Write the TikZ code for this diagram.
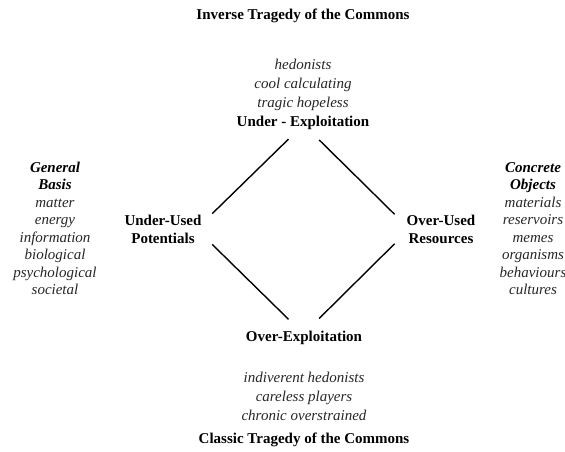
\documentclass[tikz,border=0pt]{standalone}
\usepackage{fontspec}
\setmainfont{Liberation Serif}
\usetikzlibrary{positioning}

\begin{document}
\begin{tikzpicture}[
    x=1pt, y=-1pt,
    heading/.style={
        align=center,
        inner sep=0pt,
        font=\fontsize{15}{17.5}\selectfont\bfseries
    },
    players/.style={
        align=center,
        inner sep=0pt,
        text=black!85,
        font=\fontsize{15}{19}\selectfont\itshape
    },
    sidelist/.style={
        align=center,
        inner sep=0pt,
        text=black!85,
        font=\fontsize{15}{17.5}\selectfont\itshape
    },
    line/.style={line width=1.4pt, shorten <=22pt, shorten >=21pt}
]
    \useasboundingbox (0,0) rectangle (565,452);

    \node[heading] (inverse) at (303,16) {Inverse Tragedy of the Commons};
    \node[players] (hedonists) at (303,84.5) {hedonists\\cool calculating\\tragic hopeless};
    \node[heading] (underexp) at (303,122.5) {Under - Exploitation};

    \node[heading] (overexp) at (304,338) {Over-Exploitation};
    \node[players] (careless) at (304,396) {indiverent hedonists\\careless players\\chronic overstrained};
    \node[heading] (classic) at (304,440) {Classic Tragedy of the Commons};

    \node[heading] (potentials) at (163,229.5) {Under-Used\\Potentials};
    \node[heading] (resources) at (441,229.5) {Over-Used\\Resources};

    \node[sidelist] (basis) at (55,228.5) {\textcolor{black}{\bfseries General}\\\textcolor{black}{\bfseries Basis}\\matter\\energy\\information\\biological\\psychological\\societal};
    \node[sidelist] (objects) at (533,228.5) {\textcolor{black}{\bfseries Concrete}\\\textcolor{black}{\bfseries Objects}\\materials\\reservoirs\\memes\\organisms\\behaviours\\cultures};

    % corners of the diamond
    \coordinate (top) at (303.5,124.5);
    \coordinate (bottom) at (303.5,334);
    \coordinate (left) at (196.5,229);
    \coordinate (right) at (409.5,229);

    \draw[line] (left) -- (top);
    \draw[line] (top) -- (right);
    \draw[line] (left) -- (bottom);
    \draw[line] (bottom) -- (right);
\end{tikzpicture}
\end{document}
